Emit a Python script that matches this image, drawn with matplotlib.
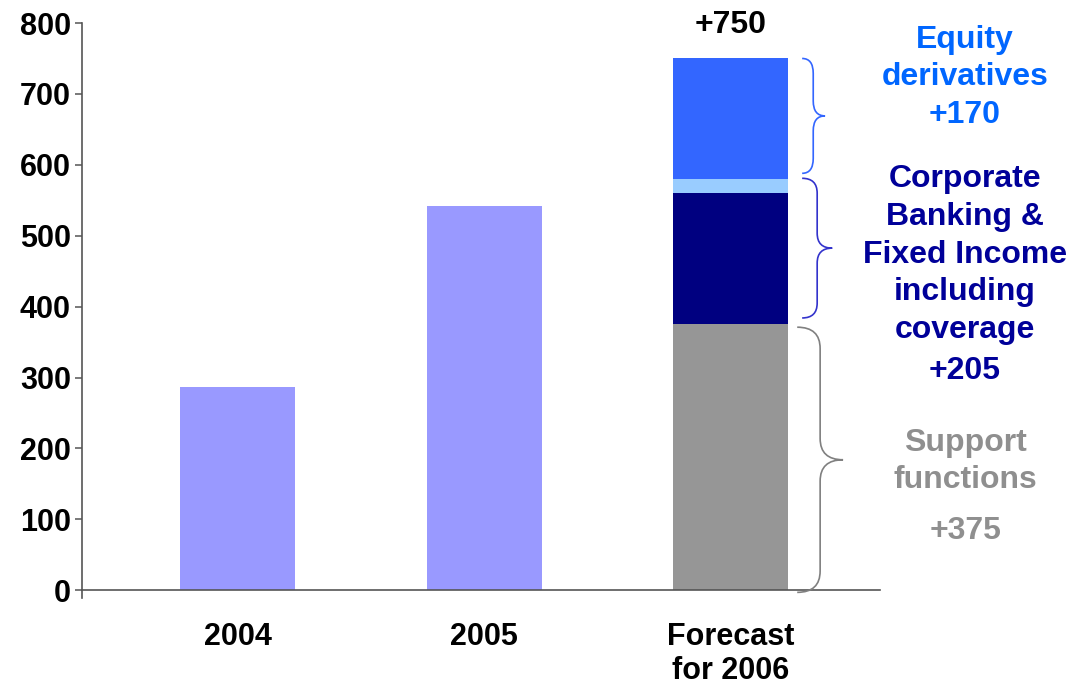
import matplotlib
matplotlib.use("Agg")
import matplotlib.pyplot as plt
from matplotlib.path import Path
from matplotlib.patches import PathPatch

plt.rcParams['font.family'] = ['Liberation Sans', 'DejaVu Sans']
plt.rcParams['font.weight'] = 'bold'

# ---- data ----
categories = ['2004', '2005', 'Forecast\nfor 2006']
past_values = [287, 542]                  # 2004, 2005
forecast_support = 375
forecast_corporate_core = 185
forecast_corporate_extra = 20
forecast_equity = 170
forecast_total = 750
yticks = [0, 100, 200, 300, 400, 500, 600, 700, 800]

c_past = '#9999FF'
c_support = '#969696'
c_corp = '#000080'
c_corp_extra = '#99CCFF'
c_equity = '#3366FF'

fig = plt.figure(figsize=(10.71, 6.87), dpi=100)
ax = fig.add_axes([0.0766, 0.1295, 0.8217 - 0.0766, 0.837])

w = 0.467
ax.bar([0, 1], past_values, width=w, color=c_past, zorder=2)
b0 = 0
ax.bar(2, forecast_support, bottom=b0, width=w, color=c_support, zorder=2)
b0 += forecast_support
ax.bar(2, forecast_corporate_core, bottom=b0, width=w, color=c_corp, zorder=2)
b0 += forecast_corporate_core
ax.bar(2, forecast_corporate_extra, bottom=b0, width=w, color=c_corp_extra, zorder=2)
b0 += forecast_corporate_extra
ax.bar(2, forecast_equity, bottom=b0, width=w, color=c_equity, zorder=2)

ax.set_xlim(-0.631, 2.606)
ax.set_ylim(-11, 800)

for s in ['top', 'right']:
    ax.spines[s].set_visible(False)
ax.spines['bottom'].set_position(('data', 0))
for s in ['left', 'bottom']:
    ax.spines[s].set_color('#555555')
    ax.spines[s].set_linewidth(1.2)

ax.set_yticks(yticks)
ax.set_yticklabels([str(t) for t in yticks], fontsize=22, fontweight='bold')
ax.tick_params(axis='y', length=5, width=1.1, color='#555555', pad=3)
ax.set_xticks([0, 1, 2])
ax.set_xticklabels(categories, fontsize=22, fontweight='bold', linespacing=1.17)
ax.tick_params(axis='x', length=0, pad=23)

# total label
ax.text(2, forecast_total + 36, '+%d' % forecast_total, ha='center', va='baseline',
        fontsize=23, fontweight='bold', color='black')


def brace(x0, x1, x2, ybot, ytop, r, color):
    ymid = (ybot + ytop) / 2
    verts = [(x0, ytop), (x1, ytop), (x1, ytop - r),
             (x1, ymid + r), (x1, ymid), (x2, ymid),
             (x1, ymid), (x1, ymid - r),
             (x1, ybot + r), (x1, ybot), (x0, ybot)]
    codes = [Path.MOVETO, Path.CURVE3, Path.CURVE3,
             Path.LINETO, Path.CURVE3, Path.CURVE3,
             Path.CURVE3, Path.CURVE3,
             Path.LINETO, Path.CURVE3, Path.CURVE3]
    ax.add_patch(PathPatch(Path(verts, codes), fill=False, edgecolor=color,
                           linewidth=1.2, clip_on=False, zorder=3))


top_corp = forecast_support + forecast_corporate_core + forecast_corporate_extra
brace(2.290, 2.335, 2.383, top_corp + 8, forecast_total, 21, '#3366FF')
brace(2.290, 2.351, 2.412, forecast_support + 9, top_corp + 1, 21, '#3333CC')
brace(2.270, 2.363, 2.456, -3, forecast_support - 4, 30, '#808080')

# multi-line texts: va='baseline' anchors the last line's baseline
xt = 2.951
ax.text(xt, 659, 'Equity\nderivatives\n+%d' % forecast_equity, ha='center', va='baseline',
        fontsize=23, fontweight='bold', color='#0066FF', linespacing=1.33)
ax.text(xt, 356, 'Corporate\nBanking &\nFixed Income\nincluding\ncoverage', ha='center',
        va='baseline', fontsize=23, fontweight='bold', color='#000099', linespacing=1.33)
ax.text(xt, 298, '+%d' % (forecast_corporate_core + forecast_corporate_extra), ha='center',
        va='baseline', fontsize=23, fontweight='bold', color='#000099')
ax.text(xt, 144, 'Support\nfunctions', ha='center', va='baseline',
        fontsize=23, fontweight='bold', color='#8F8F8F', linespacing=1.33)
ax.text(xt, 72, '+%d' % forecast_support, ha='center', va='baseline',
        fontsize=23, fontweight='bold', color='#8F8F8F')

fig.savefig('out.png', dpi=100)
